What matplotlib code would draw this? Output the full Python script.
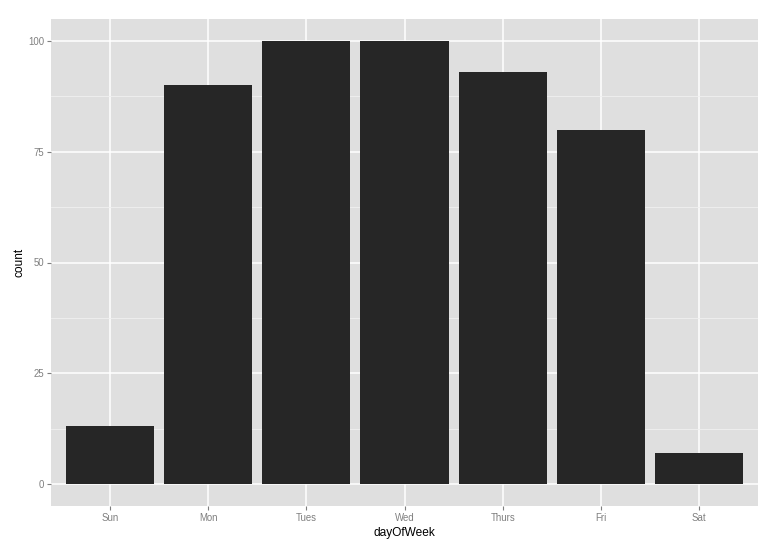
import numpy as np
from matplotlib import pyplot as plt

days = ["Sun", "Mon", "Tues", "Wed", "Thurs", "Fri", "Sat"]
counts = [13, 90, 100, 100, 93, 80, 7]
y_ticks = [0, 25, 50, 75, 100]
y_minor = [12.5, 37.5, 62.5, 87.5]

plt.rcParams['font.family'] = ['Liberation Sans', 'DejaVu Sans']

fig = plt.figure(figsize=(7.77, 5.48), dpi=100)
ax = fig.add_axes([51/777, 42/548, 707/777, 487/548])
ax.set_facecolor("#DFDFDF")

x = np.arange(len(days))
ax.bar(x, counts, width=0.9, color="#262626", zorder=3)

ax.set_xlim(-0.6, len(days) - 0.4)
ax.set_ylim(-5, 105)
ax.set_xticks(x)
ax.set_xticklabels(days)
ax.set_yticks(y_ticks)
ax.set_yticks(y_minor, minor=True)

# ggplot-like grid
ax.grid(which="major", color="white", linewidth=1.1, zorder=0)
ax.grid(which="minor", axis="y", color="#F0F0F0", linewidth=0.6, zorder=0)
ax.set_axisbelow(True)

for s in ax.spines.values():
    s.set_visible(False)

ax.tick_params(which="major", length=3, width=0.8, color="#7F7F7F",
               labelcolor="#7F7F7F", labelsize=6.9, pad=2)
ax.tick_params(which="minor", length=0)

ax.set_xlabel("dayOfWeek", fontsize=8.6, labelpad=3)
ax.set_ylabel("count", fontsize=8.6, labelpad=2)

fig.savefig("out.png", dpi=100)
